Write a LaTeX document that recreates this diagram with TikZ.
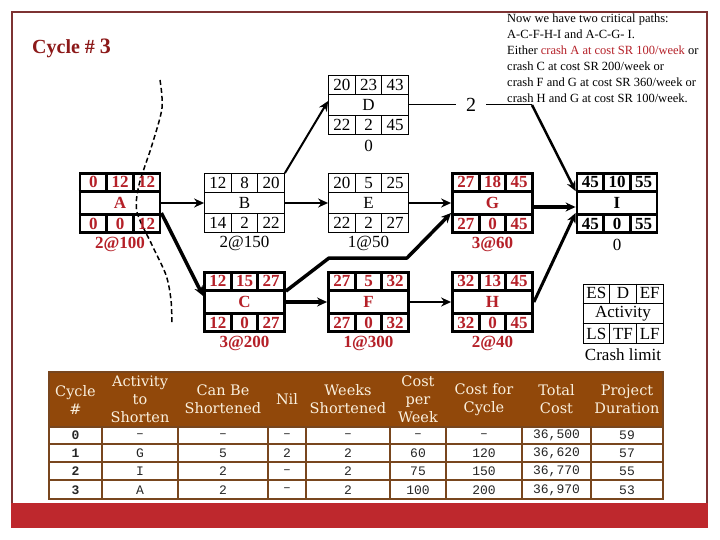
\documentclass[tikz,border=0pt]{standalone}
\usepackage{fontspec}
\setmainfont{Liberation Serif}
\newfontfamily\hdrfont{DejaVu Serif}
\newfontfamily\bodyfont{Liberation Mono}
\usetikzlibrary{arrows.meta}
\definecolor{critred}{RGB}{181,32,40}
\definecolor{titlered}{RGB}{140,25,25}
\definecolor{framecol}{RGB}{125,50,50}
\definecolor{barred}{RGB}{190,40,45}
\definecolor{hdrbrown}{RGB}{145,72,10}
\definecolor{hdrtext}{RGB}{250,240,222}
\definecolor{tblline}{RGB}{120,70,30}
\newcommand\threecells[7]{%
  \node[#2txt] (#1#3a) at ([xshift=-26.67pt,yshift=#4]#1.#3) {#5};
  \node[#2txt] (#1#3b) at ([yshift=#4]#1.#3) {#6};
  \node[#2txt] (#1#3c) at ([xshift=26.67pt,yshift=#4]#1.#3) {#7};
}
\newcommand\actnode[7]{%
  \node[#2, minimum width=80pt, minimum height=59pt] (#1) at #3 {};
  \draw[#2] ([yshift=-19.67pt]#1.north west) -- ([yshift=-19.67pt]#1.north east);
  \draw[#2] ([yshift=19.67pt]#1.south west) -- ([yshift=19.67pt]#1.south east);
  \draw[#2] ([xshift=-13.33pt]#1.north) -- ++(0pt,-19.67pt);
  \draw[#2] ([xshift=13.33pt]#1.north) -- ++(0pt,-19.67pt);
  \draw[#2] ([xshift=-13.33pt]#1.south) -- ++(0pt,19.67pt);
  \draw[#2] ([xshift=13.33pt]#1.south) -- ++(0pt,19.67pt);
  \threecells{#1}{#2}{north}{-9.83pt}#4
  \threecells{#1}{#2}{south}{9.83pt}#6
  \node[#2txt] (#1mid) at (#1) {#5};
  \node[#2lab] (#1lab) at ([yshift=-11pt]#1.south) {#7};
}
\begin{document}
\begin{tikzpicture}[x=1pt,y=-1pt,
  critR/.style={draw=black, line width=2.8pt, inner sep=0pt},
  critRtxt/.style={text=critred, font=\fontsize{17}{18}\selectfont\bfseries, inner sep=0pt},
  critRlab/.style={critRtxt},
  critK/.style={draw=black, line width=2.8pt, inner sep=0pt},
  critKtxt/.style={text=black, font=\fontsize{17}{18}\selectfont\bfseries, inner sep=0pt},
  critKlab/.style={normboxtxt},
  normbox/.style={draw=black, line width=0.8pt, inner sep=0pt},
  normboxtxt/.style={text=black, font=\fontsize{17}{18}\selectfont, inner sep=0pt},
  normboxlab/.style={normboxtxt},
  conn/.style={line width=#1, -{Stealth[length=10pt,width=9pt]}},
  hdr/.style={text=hdrtext, font=\hdrfont\fontsize{14.5}{18}\selectfont, align=center, inner sep=0pt},
  bodytxt/.style={text=black!85, font=\bodyfont\fontsize{13}{15}\selectfont, inner sep=0pt},
  tline/.style={draw=tblline, line width=1.2pt}
]
\useasboundingbox (0,0) rectangle (720,540);
\fill[white] (0,0) rectangle (720,540);
% frame and bar
\draw[framecol, line width=1.2pt] (12,503) -- (12,12) -- (707,12) -- (707,503);
\fill[barred] (11,503) rectangle (708,528);
% title
\node[anchor=base west, text=titlered, font=\fontsize{20}{24}\selectfont\bfseries, inner sep=0pt] (title) at (32,54) {Cycle \# {\fontsize{22}{24}\selectfont 3}};
% note
\node[anchor=north west, align=left, font=\fontsize{12.5}{16}\selectfont, inner sep=0pt] (note) at (507,14)
 {Now we have two critical paths:\\ A-C-F-H-I and A-C-G- I.\\ Either \textcolor{critred}{crash A at cost SR 100/week} or\\ crash C at cost SR 200/week or\\ crash F and G at cost SR 360/week or\\ crash H and G at cost SR 100/week.};
% dashed cut
\draw[line width=1.5pt, dash pattern=on 5pt off 3pt] plot[smooth] coordinates {(160,80) (162,108) (152,145) (139,185) (137,212) (152,245) (166,275) (171,300) (172,325)};
% activity nodes
\actnode{A}{critR}{(120,203)}{{0}{12}{12}}{A}{{0}{0}{12}}{2@100}
\actnode{B}{normbox}{(244.5,203)}{{12}{8}{20}}{B}{{14}{2}{22}}{2@150}
\actnode{E}{normbox}{(368.5,203)}{{20}{5}{25}}{E}{{22}{2}{27}}{1@50}
\actnode{G}{critR}{(492.5,203)}{{27}{18}{45}}{G}{{27}{0}{45}}{3@60}
\actnode{I}{critK}{(617,203)}{{45}{10}{55}}{I}{{45}{0}{55}}{0}
\actnode{C}{critR}{(244.5,302)}{{12}{15}{27}}{C}{{12}{0}{27}}{3@200}
\actnode{F}{critR}{(368.5,302)}{{27}{5}{32}}{F}{{27}{0}{32}}{1@300}
\actnode{H}{critR}{(492.5,302)}{{32}{13}{45}}{H}{{32}{0}{45}}{2@40}
\actnode{D}{normbox}{(368.5,105)}{{20}{23}{43}}{D}{{22}{2}{45}}{0}
\actnode{L}{normbox}{(623,313.5)}{{ES}{D}{EF}}{Activity}{{LS}{TF}{LF}}{Crash limit}
% connectors
\node[font=\fontsize{20}{22}\selectfont, inner sep=10pt] (two) at (471,105) {2};
\coordinate (bend) at (532,105);
\coordinate (cg1) at (329,258);
\coordinate (cg2) at (407,258);
\draw[conn=2pt] (A.east) -- (B.west);
\draw[conn=3.5pt] ([yshift=-10pt]A.east) -- ([yshift=6pt]C.west);
\draw[conn=2pt] (B.east) -- (E.west);
\draw[conn=2pt] (B.north east) -- ([yshift=4pt]D.west);
\draw[line width=1pt] (D.east) -- (two.west);
\draw[line width=1pt] (two.east) -- (bend);
\draw[conn=2.5pt] (bend) -- ([yshift=-19pt]I.north west);
\draw[conn=2pt] (E.east) -- (G.west);
\draw[conn=3.5pt, line join=round] ([yshift=-20pt]C.north east) -- (cg1) -- (cg2) -- ([yshift=-10pt]G.west);
\draw[conn=3.5pt] (C.east) -- (F.west);
\draw[conn=2.5pt] (F.east) -- (H.west);
\draw[conn=4pt] ([yshift=-4pt]G.east) -- ([yshift=-4pt]I.west);
\draw[conn=3pt] (H.east) -- ([yshift=-10pt]I.west);
% table
\fill[hdrbrown] (49,372) rectangle (663,427);
\draw[tline] (49,372) rectangle (663,499);
\foreach \yy in {427,444,462,480} \draw[tline] (49,\yy) -- (663,\yy);
\foreach \xx in {102,178,268,306,390,446,522,591} \draw[tline] (\xx,427) -- (\xx,499);
\node[hdr] (h1) at (75.5,399.5) {Cycle\\\#};
\node[hdr] (h2) at (140,399.5) {Activity\\to\\Shorten};
\node[hdr] (h3) at (223,399.5) {Can Be\\Shortened};
\node[hdr] (h4) at (287,399.5) {Nil};
\node[hdr] (h5) at (348,399.5) {Weeks\\Shortened};
\node[hdr] (h6) at (418,399.5) {Cost\\per\\Week};
\node[hdr] (h7) at (484,399.5) {Cost for\\Cycle};
\node[hdr] (h8) at (556.5,399.5) {Total\\Cost};
\node[hdr] (h9) at (627,399.5) {Project\\Duration};
\foreach \x/\t [count=\c] in {75.5/{\bfseries 0},140/–,223/–,287/–,348/–,418/–,484/–,556.5/{36,500},627/59}
  \node[bodytxt] (ra\c) at (\x,435.5) {\t};
\foreach \x/\t [count=\c] in {75.5/{\bfseries 1},140/G,223/5,287/2,348/2,418/60,484/120,556.5/{36,620},627/57}
  \node[bodytxt] (rb\c) at (\x,453.5) {\t};
\foreach \x/\t [count=\c] in {75.5/{\bfseries 2},140/I,223/2,287/–,348/2,418/75,484/150,556.5/{36,770},627/55}
  \node[bodytxt] (rc\c) at (\x,471.5) {\t};
\foreach \x/\t [count=\c] in {75.5/{\bfseries 3},140/A,223/2,287/–,348/2,418/100,484/200,556.5/{36,970},627/53}
  \node[bodytxt] (rd\c) at (\x,490) {\t};
\end{tikzpicture}
\end{document}
